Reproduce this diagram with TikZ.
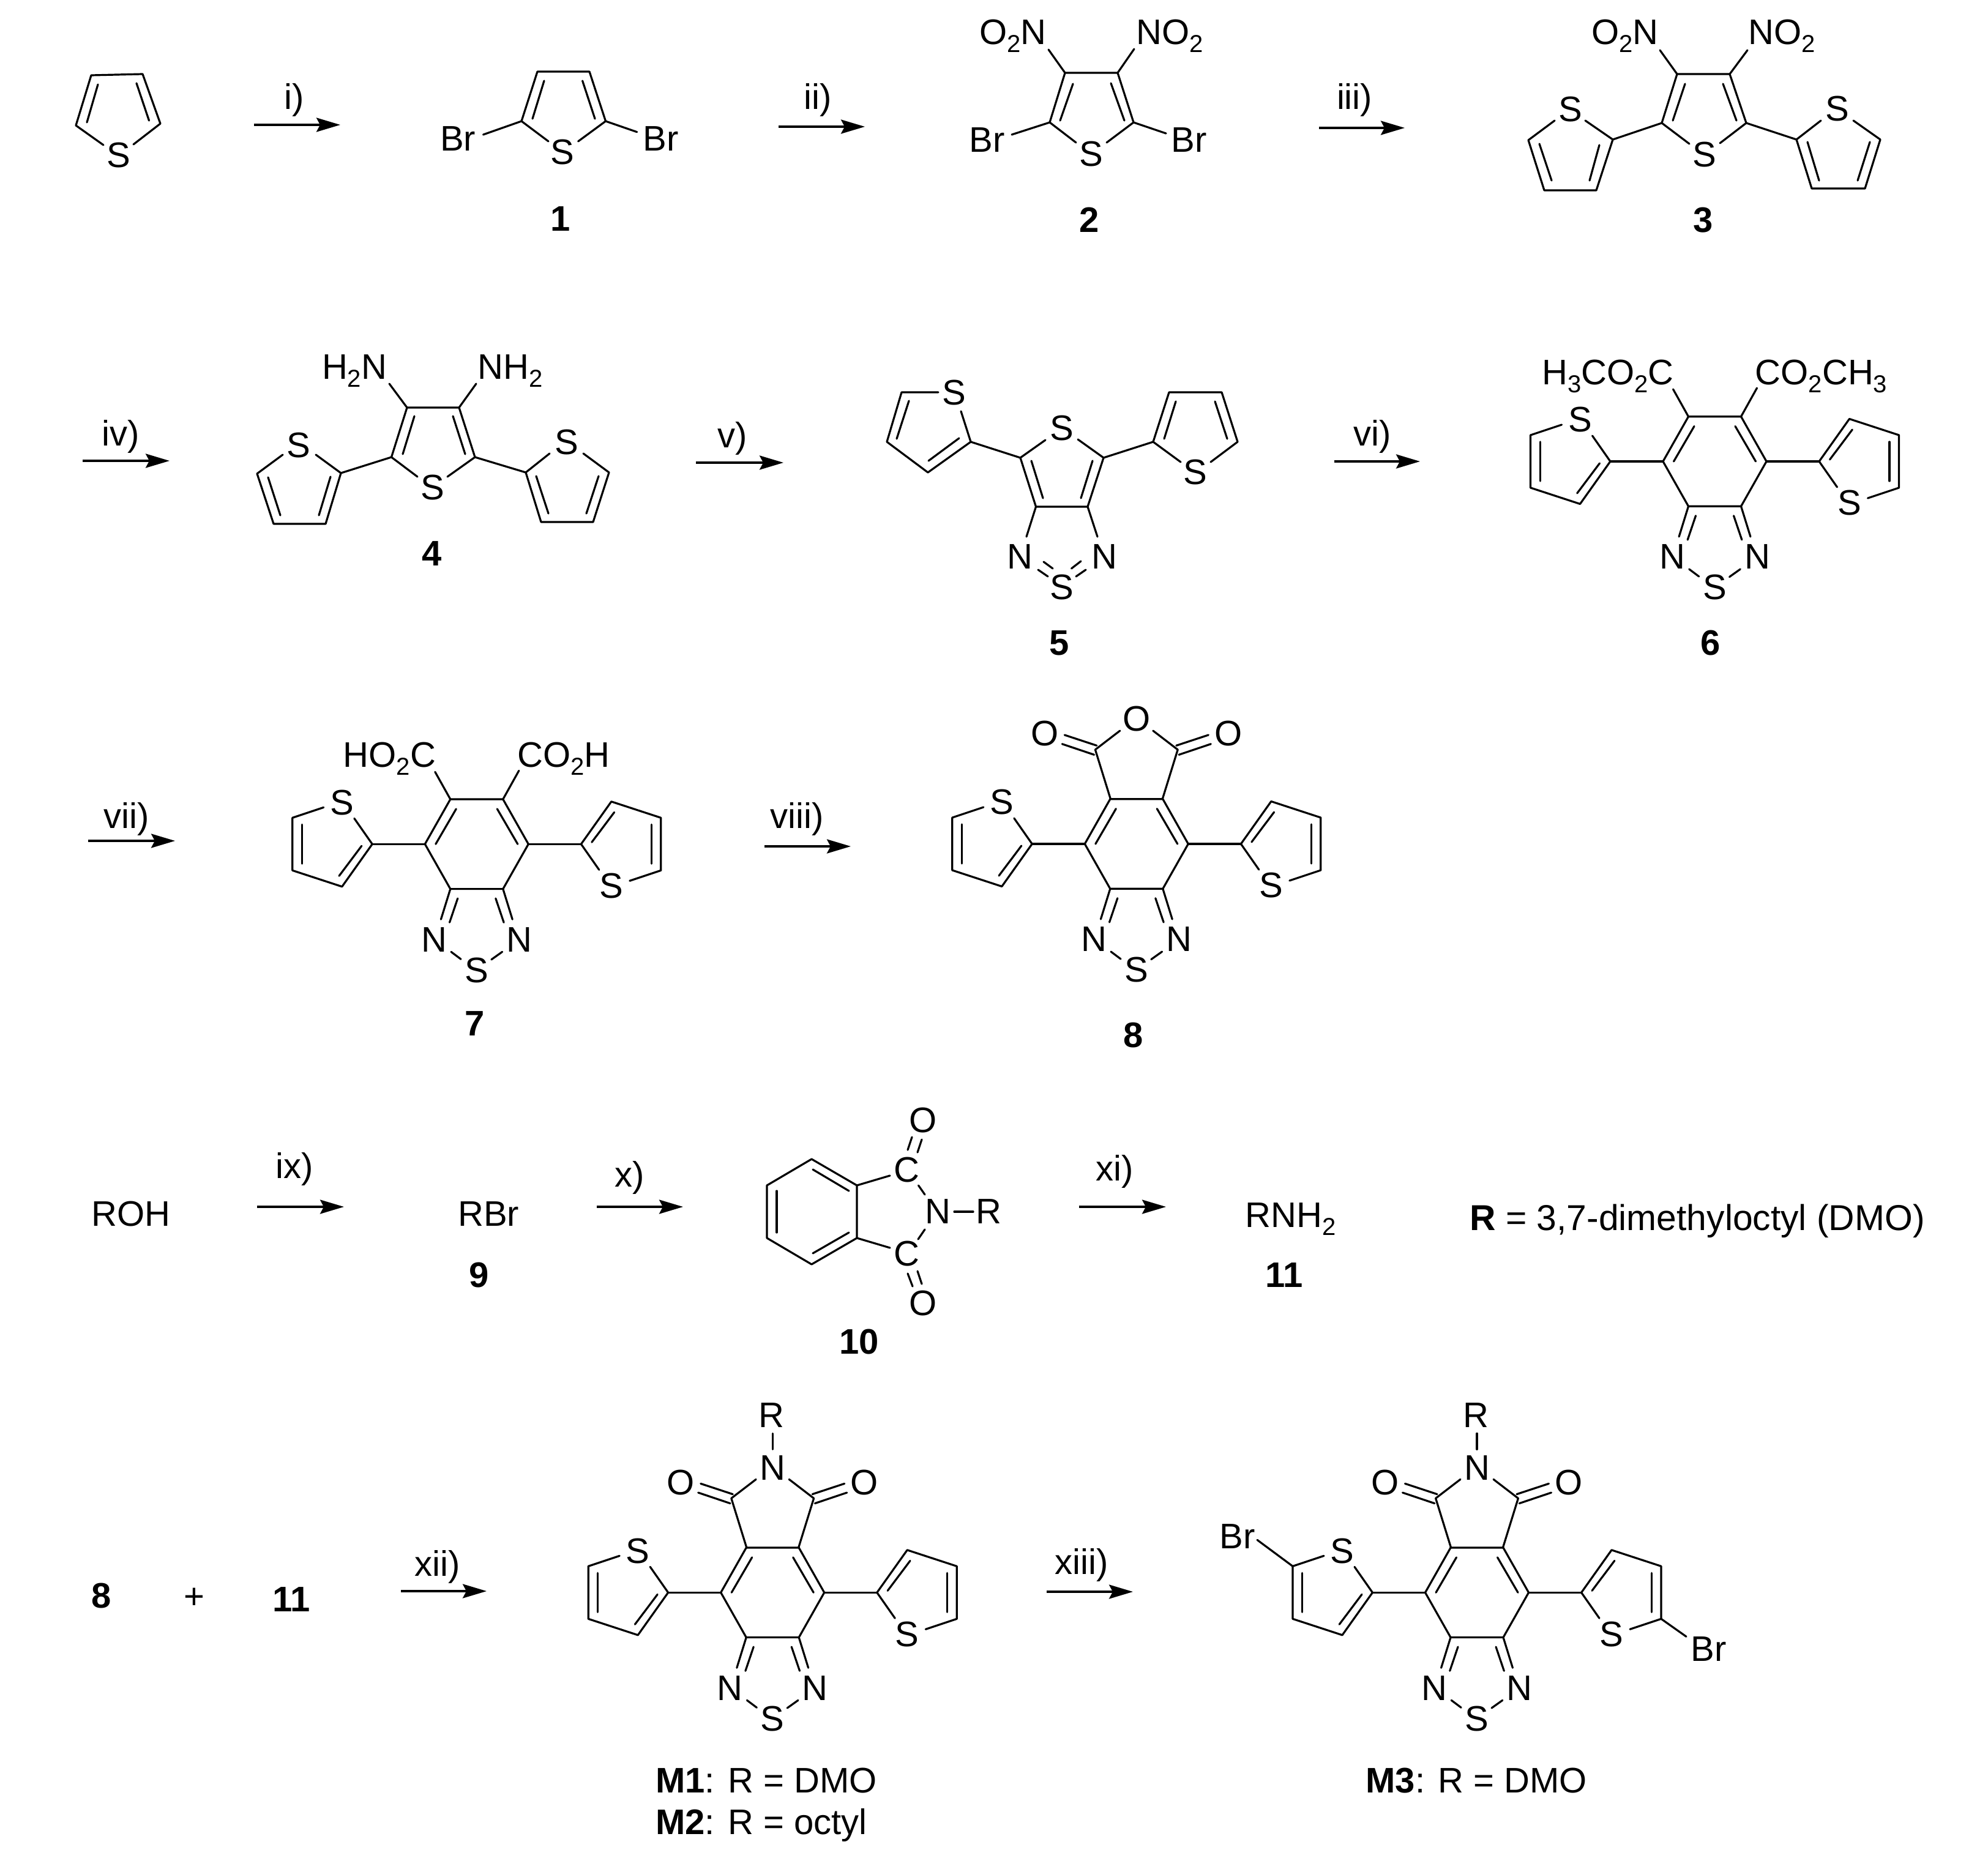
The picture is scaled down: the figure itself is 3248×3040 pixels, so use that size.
\documentclass[tikz,border=0pt]{standalone}
\usepackage{fontspec}
\setmainfont{Liberation Sans}
\usetikzlibrary{arrows.meta}
\newcommand{\subs}[1]{\raisebox{-6.5pt}{\fontsize{20}{20}\selectfont #1}}
\tikzset{
  bond/.style={line width=1.6pt,line cap=round,line join=round,black},
  rxnarrow/.style={line width=1.7pt,black,-{Stealth[length=19.5pt,width=11.5pt,inset=3pt]}},
  atom/.style={inner sep=0pt,font=\fontsize{29}{35}\selectfont,text=black},
  atomE/.style={atom,anchor=base east},
  atomW/.style={atom,anchor=base west},
  lab/.style={atom,anchor=base},
  cmpd/.style={atom,anchor=base,font=\fontsize{29}{35}\selectfont\bfseries},
}
\newcommand{\rxn}[7]{%
  \coordinate (#1s) at (#2,#4);
  \coordinate (#1e) at (#3,#4);
  \draw[rxnarrow] (#1s) -- (#1e);
  \node[lab] (#1l) at (#6,#7) {#5};}
% benzo-thiadiazole core, local coordinates about the ring centre
\newcommand{\core}{%
  \draw[bond] (-43,-73.3) -- (43,-73.3) -- (84.5,0) -- (43,73.3) -- (-43,73.3) -- (-84.5,0) -- cycle;
  \draw[bond] (-33.5,-57.5) -- (-67,0);
  \draw[bond] (33.5,-57.5) -- (67,0);
  \draw[bond] (-43,73.3) -- (-58.4,123);
  \draw[bond] (-31,88.7) -- (-44.3,128);
  \draw[bond] (43,73.3) -- (58.4,123);
  \draw[bond] (31,88.7) -- (44.3,128);
  \node[atom] (nl) at (-69.5,156) {N};
  \node[atom] (nr) at (69.5,156) {N};
  \node[atom] (sb) at (0,206) {S};
  \draw[bond] (-41.8,176) -- (-25.8,188);
  \draw[bond] (41.8,176) -- (24,188.7);}
\newcommand{\thienL}{%
  \draw[bond] (-84.5,0) -- (-170.6,0);
  \node[atom] (sl) at (-220,-68) {S};
  \draw[bond] (-250,-60) -- (-301,-43) -- (-301,43) -- (-220,69.5) -- (-170.6,0) -- (-200,-42);
  \draw[bond] (-285.4,-32) -- (-285.4,32);
  \draw[bond] (-224.8,52) -- (-188,3);}
\newcommand{\thienR}{%
  \draw[bond] (84.5,0) -- (170.6,0);
  \node[atom] (sr) at (220,68) {S};
  \draw[bond] (250,60) -- (301,43) -- (301,-43) -- (220,-69.5) -- (170.6,0) -- (200,42);
  \draw[bond] (285.4,32) -- (285.4,-32);
  \draw[bond] (224.8,-52) -- (188,-3);}
\newcommand{\fivering}[1]{%
  \draw[bond] (-42.4,-73.3) -- (-67.4,-154) -- (-27,-185);
  \draw[bond] (42.4,-73.3) -- (67.4,-154) -- (27,-185);
  \node[atom] (xc) at (0,-204) {#1};
  \draw[bond] (-117.5,-178) -- (-65,-160.7);
  \draw[bond] (-121.5,-163.3) -- (-69.2,-145.7);
  \draw[bond] (117.5,-178) -- (65,-160.7);
  \draw[bond] (121.5,-163.3) -- (69.2,-145.7);
  \node[atom] (ol) at (-150,-180) {O};
  \node[atom] (or) at (150,-180) {O};}
\newcommand{\acidsubs}[2]{%
  \draw[bond] (-43,-73.3) -- (-68,-118);
  \draw[bond] (43,-73.3) -- (69,-120);
  \node[atomE] (subl) at (-66.5,-126) {#1};
  \node[atomW] (subr) at (66,-126) {#2};}
\newcommand{\nrgroup}{%
  \draw[bond] (0,-260) -- (0,-234);
  \node[atom] (rg) at (-2,-290) {R};}
\begin{document}
\begin{tikzpicture}[x=0.5pt,y=-0.5pt]
\useasboundingbox (0,0) rectangle (3248,3040);
\fill[white] (0,0) rectangle (3248,3040);

% thiophene
\begin{scope}[name prefix=t0-]
  \draw[bond] (169,237) -- (124,205) -- (149,123) -- (233,121) -- (262,202) -- (218,236);
  \draw[bond] (160,138) -- (142,200);
  \draw[bond] (223,136) -- (243.5,197);
  \node[atom] (s) at (194,254) {S};
\end{scope}
\rxn{a1}{415}{556}{204}{i)}{481}{178}

% 1
\begin{scope}[name prefix=m1x-]
  \draw[bond] (896,231) -- (852,198) -- (878,117) -- (963,117) -- (989.5,198) -- (944.6,231);
  \draw[bond] (889,132) -- (870,194);
  \draw[bond] (951.6,132) -- (972,194);
  \draw[bond] (852,198) -- (789.5,220);
  \draw[bond] (989.5,198) -- (1040.7,215.7);
  \node[atom] (s) at (919,249) {S};
  \node[atomE] (brl) at (777.5,246) {Br};
  \node[atomW] (brr) at (1050,246) {Br};
  \node[cmpd] (id) at (916,377) {1};
\end{scope}
\rxn{a2}{1272}{1413}{207}{ii)}{1336}{178}

% 2
\begin{scope}[name prefix=m2x-]
  \draw[bond] (1758,233) -- (1715,200) -- (1740,119) -- (1826,119) -- (1852,200) -- (1808,233);
  \draw[bond] (1753,137) -- (1732,197);
  \draw[bond] (1815,136) -- (1837,197);
  \draw[bond] (1715,200) -- (1653,220);
  \draw[bond] (1852,200) -- (1905,218);
  \draw[bond] (1740,119) -- (1713,81);
  \draw[bond] (1826,119) -- (1853,80);
  \node[atom] (s) at (1783,252) {S};
  \node[atomE] (brl) at (1642,248) {Br};
  \node[atomW] (brr) at (1913,248) {Br};
  \node[atomE] (nl) at (1710,73) {O\subs{2}N};
  \node[atomW] (nr) at (1856,73) {NO\subs{2}};
  \node[cmpd] (id) at (1780,379) {2};
\end{scope}
\rxn{a3}{2155}{2295}{209}{iii)}{2213}{178}

% 3
\begin{scope}[name prefix=m3x-]
  \draw[bond] (2760,235) -- (2715,201) -- (2740,121) -- (2826,121) -- (2853,201) -- (2810,234);
  \draw[bond] (2753,137) -- (2733,197);
  \draw[bond] (2815,137) -- (2837,197);
  \draw[bond] (2740,121) -- (2712,82);
  \draw[bond] (2826,121) -- (2855,82);
  \node[atom] (s) at (2785,253) {S};
  \node[atomE] (nl) at (2710,73) {O\subs{2}N};
  \node[atomW] (nr) at (2856,73) {NO\subs{2}};
  \draw[bond] (2715,201) -- (2635,228);
  \draw[bond] (2540,197) -- (2497,229) -- (2523,311) -- (2608,311) -- (2635,228) -- (2590,197);
  \draw[bond] (2613,237) -- (2597,295);
  \draw[bond] (2515,235) -- (2535,295);
  \node[atom] (sl) at (2566,179) {S};
  \draw[bond] (2853,201) -- (2935,228);
  \draw[bond] (2975,197) -- (2935,228) -- (2960,308) -- (3047,308) -- (3072,228) -- (3028,197);
  \draw[bond] (2953,232) -- (2972,295);
  \draw[bond] (3055,232) -- (3035,295);
  \node[atom] (sr) at (3002,178) {S};
  \node[cmpd] (id) at (2783,379) {3};
\end{scope}

\rxn{a4}{135}{277}{753}{iv)}{197}{728}

% 4
\begin{scope}[name prefix=m4x-]
  \draw[bond] (682,779) -- (639.5,747) -- (665,666) -- (750,666) -- (776,747) -- (731,779);
  \draw[bond] (677,680) -- (658,742);
  \draw[bond] (740,680) -- (760,742);
  \draw[bond] (665,666) -- (636,627);
  \draw[bond] (750,666) -- (778,627);
  \node[atom] (s) at (707,797) {S};
  \node[atomE] (nl) at (632.5,619) {H\subs{2}N};
  \node[atomW] (nr) at (780,619) {NH\subs{2}};
  \draw[bond] (639.5,747) -- (557,773);
  \draw[bond] (462,743) -- (420,774) -- (447,856) -- (532,856) -- (557,773) -- (516,743);
  \draw[bond] (540,779) -- (521,842);
  \draw[bond] (438,780) -- (458,842);
  \node[atom] (sl) at (488,728) {S};
  \draw[bond] (776,747) -- (859,772);
  \draw[bond] (898,741) -- (859,772) -- (884,853) -- (969,853) -- (995,772) -- (953,741);
  \draw[bond] (876,778) -- (896,839);
  \draw[bond] (978,778) -- (958,839);
  \node[atom] (sr) at (926,723) {S};
  \node[cmpd] (id) at (706,924) {4};
\end{scope}
\rxn{a5}{1137}{1280}{756}{v)}{1197}{731}

% 5
\begin{scope}[name prefix=m5x-]
  \draw[bond] (1708,719) -- (1667,748) -- (1692.5,828) -- (1777,828) -- (1803,748) -- (1761,718);
  \draw[bond] (1685,753) -- (1704,814);
  \draw[bond] (1785,753) -- (1766,814);
  \draw[bond] (1692.5,828) -- (1677,877);
  \draw[bond] (1777,828) -- (1793,877);
  \node[atom] (s) at (1735,700) {S};
  \node[atom] (nl) at (1666,910) {N};
  \node[atom] (nr) at (1804,910) {N};
  \node[atom] (sb) at (1735,960) {S};
  \draw[bond] (1696,931) -- (1712,942);
  \draw[bond] (1705,918) -- (1720,929);
  \draw[bond] (1750.5,929) -- (1766,917);
  \draw[bond] (1758,942) -- (1774,931);
  \draw[bond] (1667,748) -- (1586,722);
  \draw[bond] (1533,641) -- (1473,641) -- (1449,722) -- (1516,772) -- (1586,722) -- (1570,672);
  \draw[bond] (1567,716) -- (1517,753);
  \draw[bond] (1465,717) -- (1485,655);
  \node[atom] (sl) at (1559,642) {S};
  \draw[bond] (1803,748) -- (1884,722);
  \draw[bond] (1929,755) -- (1884,722) -- (1910,641) -- (1996,641) -- (2022,722) -- (1978,755);
  \draw[bond] (1902,717) -- (1921,656);
  \draw[bond] (2005,717) -- (1985,656);
  \node[atom] (sr) at (1953,772) {S};
  \node[cmpd] (id) at (1731,1070) {5};
\end{scope}
\rxn{a6}{2180}{2320}{754}{vi)}{2242}{728}

% 6
\begin{scope}[shift={(2801.5,754)},name prefix=m6x-]
  \core \thienL \thienR
  \acidsubs{H\subs{3}CO\subs{2}C}{CO\subs{2}CH\subs{3}}
\end{scope}
\node[cmpd] (id6) at (2795,1070) {6};

\rxn{a7}{144}{286}{1374}{vii)}{207}{1353}

% 7
\begin{scope}[shift={(778.8,1379.3)},name prefix=m7x-]
  \core \thienL \thienR
  \acidsubs{HO\subs{2}C}{CO\subs{2}H}
\end{scope}
\node[cmpd] (id7) at (776,1692) {7};
\rxn{a8}{1249}{1390}{1383}{viii)}{1302}{1353}

% 8
\begin{scope}[shift={(1856.8,1379)},name prefix=m8x-]
  \core \thienL \thienR
  \fivering{O}
\end{scope}
\node[cmpd] (id8) at (1852,1711) {8};

% row 4
\node[atomW] (roh) at (149,2003) {ROH};
\rxn{a9}{420}{562}{1972}{ix)}{481}{1925}
\node[atomW] (rbr) at (748,2003) {RBr};
\node[cmpd] (id9) at (783,2103) {9};
\rxn{a10}{975}{1116}{1972}{x)}{1029}{1939}

% 10
\begin{scope}[name prefix=m10x-]
  \draw[bond] (1326,1894) -- (1400,1937) -- (1400,2023) -- (1326,2066) -- (1253,2023) -- (1253,1937) -- cycle;
  \draw[bond] (1328,1911) -- (1387,1946);
  \draw[bond] (1328,2048) -- (1387,2014);
  \draw[bond] (1269,1946) -- (1269,2014);
  \draw[bond] (1400,1937) -- (1454,1921);
  \draw[bond] (1400,2023) -- (1454,2039);
  \node[atom] (c1) at (1481,1912) {C};
  \node[atom] (c2) at (1481,2049) {C};
  \draw[bond] (1500.5,1937) -- (1511,1952);
  \draw[bond] (1511,2009) -- (1500,2025);
  \node[atom] (n) at (1532,1980) {N};
  \draw[bond] (1559,1980) -- (1590,1980);
  \node[atom] (r) at (1615,1980) {R};
  \node[atom] (o1) at (1508,1831) {O};
  \node[atom] (o2) at (1508,2130) {O};
  \draw[bond] (1483,1879) -- (1490,1858);
  \draw[bond] (1499,1883) -- (1506,1862);
  \draw[bond] (1483,2081) -- (1491,2102);
  \draw[bond] (1499,2077) -- (1506,2098);
  \node[cmpd] (id) at (1403.6,2212) {10};
\end{scope}
\rxn{a11}{1763}{1905}{1972}{xi)}{1821}{1929}
\node[atomW] (rnh) at (2034,2005) {RNH\subs{2}};
\node[cmpd] (id11) at (2098,2103) {11};
\node[atomW,font=\fontsize{29.4}{35}\selectfont] (rdef) at (2401,2010) {\textbf{R} = 3,7-dimethyloctyl (DMO)};

% row 5
\node[cmpd] (e8) at (166,2627) {8};
\node[atom] (plus) at (317,2612) {+};
\node[cmpd] (e11) at (476,2633) {11};
\rxn{a12}{655}{795}{2600}{xii)}{715}{2575}

% M1
\begin{scope}[shift={(1262.2,2602.3)},name prefix=mA-]
  \core \thienL \thienR
  \fivering{N} \nrgroup
\end{scope}
\node[atomW] (lm1) at (1071,2929) {\textbf{M1}: R = DMO};
\node[atomW] (lm2) at (1071,2997) {\textbf{M2}: R = octyl};
\rxn{a13}{1710}{1851}{2601}{xiii)}{1767}{2572}

% M3
\begin{scope}[shift={(2413,2602.3)},name prefix=mB-]
  \core \thienL \thienR
  \fivering{N} \nrgroup
  \draw[bond] (-301,-43) -- (-359,-86);
  \draw[bond] (301,43) -- (342,72);
  \node[atomE] (brl) at (-362,-72.3) {Br};
  \node[atomW] (brr) at (349,112) {Br};
\end{scope}
\node[atomW] (lm3) at (2231,2929) {\textbf{M3}: R = DMO};
\end{tikzpicture}
\end{document}
